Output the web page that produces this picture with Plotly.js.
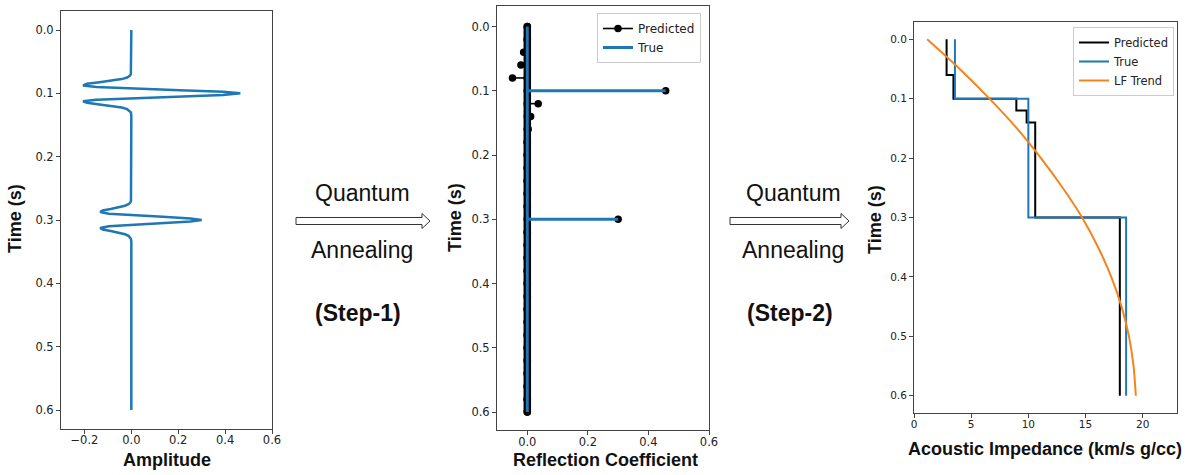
<!DOCTYPE html>
<html><head><meta charset="utf-8">
<script src="https://cdn.plot.ly/plotly-3.0.1.min.js"></script>
<style>html,body{margin:0;padding:0;background:#fff}#chart{width:1187px;height:475px}</style>
</head><body><div id="chart"></div>
<script>
const W = 1187, H = 475;

// ---- Panel 1: seismic trace (time in s, amplitude) ----
const trace_time = [0, 0.065,
  0.07,0.0725,0.075,0.0775,0.08,0.0825,0.085,0.0875,0.09,0.0925,0.095,0.0975,0.1,0.1025,0.105,0.1075,0.11,0.1125,0.115,0.1175,0.12,0.1225,0.125,0.1275,0.13,
  0.135, 0.265,
  0.27,0.2725,0.275,0.2775,0.28,0.2825,0.285,0.2875,0.29,0.2925,0.295,0.2975,0.3,0.3025,0.305,0.3075,0.31,0.3125,0.315,0.3175,0.32,0.3225,0.325,0.3275,0.33,
  0.335, 0.6];
const trace_amp = [0, 0,
  -0.002,-0.007,-0.018,-0.041,-0.081,-0.136,-0.189,-0.206,-0.149,0.0,0.207,0.391,0.465,0.391,0.207,0.0,-0.149,-0.206,-0.189,-0.136,-0.081,-0.041,-0.018,-0.007,-0.002,
  0, 0,
  -0.0015,-0.0045,-0.012,-0.027,-0.053,-0.088,-0.122,-0.133,-0.096,0.0,0.134,0.252,0.300,0.252,0.134,0.0,-0.096,-0.133,-0.122,-0.088,-0.053,-0.027,-0.012,-0.0045,-0.0015,
  0, 0];

// ---- Panel 2: reflection coefficients ----
const rc_time = [0,0.02,0.04,0.06,0.08,0.10,0.12,0.14,0.16,0.18,0.20,0.22,0.24,0.26,0.28,0.30,0.32,0.34,0.36,0.38,0.40,0.42,0.44,0.46,0.48,0.50,0.52,0.54,0.56,0.58,0.60];
const rc_pred = [0,0,-0.012,-0.021,-0.049,0.457,0.036,0.011,0.003,0,0,0,0,0,0,0.30,0,0,0,0,0,0,0,0,0,0,0,0,0,0,0];
const rc_true = [0,0,0,0,0,0.457,0,0,0,0,0,0,0,0,0,0.30,0,0,0,0,0,0,0,0,0,0,0,0,0,0,0];

// ---- Panel 3: acoustic impedance ----
const ai_pred_time = [0, 0.06, 0.10, 0.12, 0.14, 0.30, 0.60];
const ai_pred      = [2.85, 3.45, 8.95, 9.85, 10.6, 18.0, 18.0];
const ai_true_time = [0, 0.10, 0.30, 0.60];
const ai_true      = [3.58, 10.0, 18.55, 18.55];
const lf_time = [0, 0.05, 0.10, 0.15, 0.20, 0.25, 0.30, 0.35, 0.40, 0.45, 0.50, 0.55, 0.60];
const lf_trend = [1.15, 4.0, 6.6, 9.0, 11.1, 13.0, 14.7, 16.1, 17.25, 18.15, 18.8, 19.2, 19.4];

// tick labels
const time_ticks = [0, 0.1, 0.2, 0.3, 0.4, 0.5, 0.6];
const amp_ticks = [-0.2, 0, 0.2, 0.4, 0.6];
const rc_ticks = [0, 0.2, 0.4, 0.6];
const ai_ticks = [0, 5, 10, 15, 20];

const BLUE = '#1f77b4', ORANGE = '#f4841d', BLACK = '#000000';

// build stems
const stemX = [], stemY = [];
rc_time.forEach((t, i) => { stemX.push(0, rc_pred[i], null); stemY.push(t, t, null); });
const tMin = Math.min(...rc_time), tMax = Math.max(...rc_time);
const trueX = [0, 0, null], trueY = [tMin, tMax, null];
rc_time.forEach((t, i) => { if (rc_true[i] !== 0) { trueX.push(0, rc_true[i], null); trueY.push(t, t, null); } });

const data = [
  {x: trace_amp, y: trace_time, xaxis: 'x', yaxis: 'y', mode: 'lines', line: {color: BLUE, width: 2.5}, showlegend: false, hoverinfo: 'skip'},
  {x: [0, 0], y: [tMin, tMax], xaxis: 'x2', yaxis: 'y2', mode: 'lines', line: {color: BLACK, width: 7.5}, showlegend: false, hoverinfo: 'skip'},
  {x: stemX, y: stemY, xaxis: 'x2', yaxis: 'y2', mode: 'lines+markers', name: 'Predicted', legend: 'legend',
   line: {color: BLACK, width: 1.6}, marker: {color: BLACK, size: 7.5}, hoverinfo: 'skip'},
  {x: trueX, y: trueY, xaxis: 'x2', yaxis: 'y2', mode: 'lines', name: 'True', legend: 'legend',
   line: {color: BLUE, width: 3}, hoverinfo: 'skip'},
  {x: ai_pred, y: ai_pred_time, xaxis: 'x3', yaxis: 'y3', mode: 'lines', name: 'Predicted', legend: 'legend2',
   line: {color: BLACK, width: 2, shape: 'vh'}, hoverinfo: 'skip'},
  {x: ai_true, y: ai_true_time, xaxis: 'x3', yaxis: 'y3', mode: 'lines', name: 'True', legend: 'legend2',
   line: {color: BLUE, width: 2, shape: 'vh'}, hoverinfo: 'skip'},
  {x: lf_trend, y: lf_time, xaxis: 'x3', yaxis: 'y3', mode: 'lines', name: 'LF Trend', legend: 'legend2',
   line: {color: ORANGE, width: 2, shape: 'spline', smoothing: 0.8}, hoverinfo: 'skip'}
];

const tickfont = {family: 'DejaVu Sans', size: 11.5, color: '#222'};
function ax(extra) {
  return Object.assign({showline: true, mirror: true, linecolor: '#444', linewidth: 1, ticks: 'outside', ticklen: 4,
    tickcolor: '#444', tickwidth: 1, showgrid: false, zeroline: false, tickfont: tickfont, fixedrange: true}, extra);
}
const px = v => v / W, py = v => 1 - v / H;

function arrowPath(x0, xh, tip, yc) {
  const b = 3.5, h = 7.5;
  const pts = [[x0, yc - b], [xh, yc - b], [xh, yc - h], [tip, yc], [xh, yc + h], [xh, yc + b], [x0, yc + b]];
  return 'M' + pts.map(p => px(p[0]).toFixed(5) + ',' + py(p[1]).toFixed(5)).join(' L') + ' Z';
}

const txt = (x, y, text, size, bold, angle) => ({
  xref: 'paper', yref: 'paper', x: px(x), y: py(y), xanchor: 'center', yanchor: 'middle', showarrow: false,
  text: bold ? '<b>' + text + '</b>' : text, textangle: angle || 0,
  font: {family: 'Liberation Sans, Arial, sans-serif', size: size, color: '#111'}
});

const smallTick = {family: 'DejaVu Sans', size: 10.5, color: '#222'};
const layout = {
  width: W, height: H, margin: {l: 0, r: 0, t: 0, b: 0}, paper_bgcolor: '#fff', plot_bgcolor: '#fff',
  xaxis: ax({domain: [px(61), px(272)], range: [-0.3, 0.6], anchor: 'y', tickvals: amp_ticks, tickformat: '.1f', ticklabelstandoff: -4}),
  yaxis: ax({domain: [py(429), py(11)], range: [0.63, -0.03], anchor: 'x', tickvals: time_ticks, tickformat: '.1f'}),
  xaxis2: ax({domain: [px(497), px(709)], range: [-0.1, 0.6], anchor: 'y2', tickvals: rc_ticks, tickformat: '.1f', ticklabelstandoff: -3}),
  yaxis2: ax({domain: [py(430), py(6)], range: [0.628, -0.032], anchor: 'x2', tickvals: time_ticks, tickformat: '.1f'}),
  xaxis3: ax({domain: [px(914), px(1177)], range: [0, 23], anchor: 'y3', tickvals: ai_ticks, tickfont: smallTick, ticklabelstandoff: -3}),
  yaxis3: ax({domain: [py(413), py(22)], range: [0.629, -0.029], anchor: 'x3', tickvals: time_ticks, tickformat: '.1f', tickfont: smallTick}),
  legend: {x: px(597), y: py(13), xanchor: 'left', yanchor: 'top', bgcolor: 'rgba(255,255,255,0.85)', bordercolor: '#ccc', borderwidth: 1,
    font: {family: 'DejaVu Sans', size: 12, color: '#222'}, itemwidth: 30, tracegroupgap: 0},
  legend2: {x: px(1073), y: py(27), xanchor: 'left', yanchor: 'top', bgcolor: 'rgba(255,255,255,0.85)', bordercolor: '#ccc', borderwidth: 1,
    font: {family: 'DejaVu Sans', size: 11.5, color: '#222'}, itemwidth: 30, tracegroupgap: 0},
  shapes: [
    {type: 'path', xref: 'paper', yref: 'paper', path: arrowPath(296, 422, 430, 221), line: {color: '#333', width: 1}, fillcolor: '#fff'},
    {type: 'path', xref: 'paper', yref: 'paper', path: arrowPath(730, 841, 849, 221), line: {color: '#333', width: 1}, fillcolor: '#fff'}
  ],
  annotations: [
    txt(362, 193, 'Quantum', 23, false), txt(362, 250, 'Annealing', 23, false), txt(358, 313, '(Step-1)', 23, true),
    txt(793, 193, 'Quantum', 23, false), txt(793, 250, 'Annealing', 23, false), txt(790, 313, '(Step-2)', 23, true),
    txt(15, 219, 'Time (s)', 18, true, -90), txt(167, 460, 'Amplitude', 18, true),
    txt(455, 218, 'Time (s)', 18, true, -90), txt(606, 460, 'Reflection Coefficient', 18, true),
    txt(875, 220, 'Time (s)', 18, true, -90), txt(1045, 449, 'Acoustic Impedance (km/s g/cc)', 18, true)
  ]
};

Plotly.newPlot('chart', data, layout, {displayModeBar: false, staticPlot: true});
</script>
</body></html>
